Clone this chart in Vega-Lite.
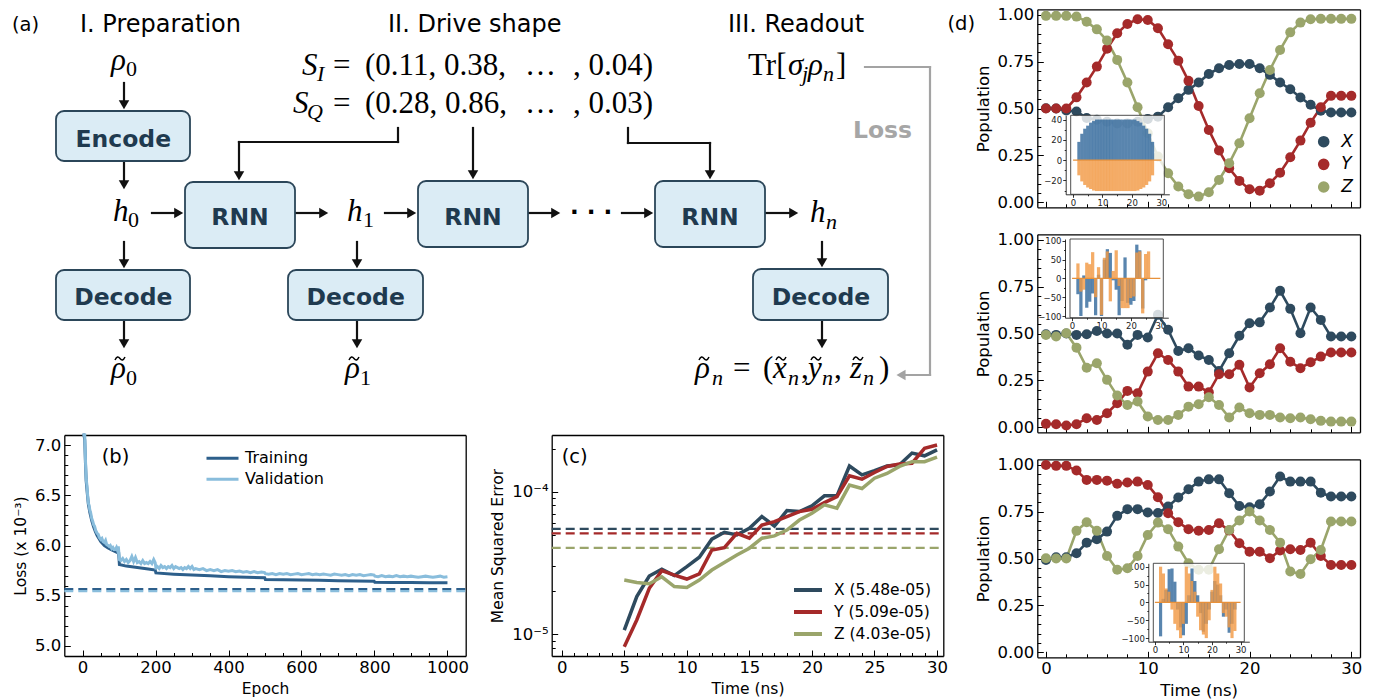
{
"$schema":"https://vega.github.io/schema/vega-lite/v6.json",
"width":1375,"height":700,"autosize":{"type":"none"},"padding":0,"background":"white",
"config":{"view":{"stroke":null},"font":"DejaVu Sans",
 "axis":{"grid":false,"domainColor":"#000","domainWidth":1.3,"tickColor":"#000","tickWidth":1,"labelFont":"DejaVu Sans","labelColor":"#000","titleFont":"DejaVu Sans","titleFontWeight":"normal","titleColor":"#000","labelFlush":false,"labelOverlap":false,"labelBound":false,"zindex":1},
 "legend":{"labelFont":"DejaVu Sans","labelColor":"#000"}},
"datasets":{
"boxes":[
 {"x":5.6,"x2":19.0,"y":11.1,"y2":16.1,"label":"Encode","cx":12.33,"cy":14.67},
 {"x":5.6,"x2":19.0,"y":27.0,"y2":32.0,"label":"Decode","cx":12.33,"cy":30.5},
 {"x":18.5,"x2":29.5,"y":18.2,"y2":24.8,"label":"RNN","cx":24.0,"cy":22.5},
 {"x":28.8,"x2":42.3,"y":27.0,"y2":32.0,"label":"Decode","cx":35.57,"cy":30.5},
 {"x":41.8,"x2":52.8,"y":18.1,"y2":24.7,"label":"RNN","cx":47.3,"cy":22.45},
 {"x":65.5,"x2":76.5,"y":18.1,"y2":24.7,"label":"RNN","cx":71.0,"cy":22.45},
 {"x":75.3,"x2":88.8,"y":26.9,"y2":32.0,"label":"Decode","cx":82.1,"cy":30.5}],
"segs":[
 {"x":12.4,"y":8.3,"x2":12.4,"y2":10.47,"k":"main"},
 {"x":12.4,"y":16.2,"x2":12.4,"y2":18.47,"k":"main"},
 {"x":12.4,"y":24.2,"x2":12.4,"y2":26.37,"k":"main"},
 {"x":12.4,"y":32.1,"x2":12.4,"y2":34.37,"k":"main"},
 {"x":35.7,"y":24.2,"x2":35.7,"y2":26.37,"k":"main"},
 {"x":35.7,"y":32.1,"x2":35.7,"y2":34.37,"k":"main"},
 {"x":82.2,"y":24.2,"x2":82.2,"y2":26.27,"k":"main"},
 {"x":82.2,"y":32.1,"x2":82.2,"y2":34.37,"k":"main"},
 {"x":23.9,"y":14.2,"x2":23.9,"y2":17.57,"k":"main"},
 {"x":47.3,"y":12.8,"x2":47.3,"y2":17.47,"k":"main"},
 {"x":71.0,"y":14.3,"x2":71.0,"y2":17.47,"k":"main"},
 {"x":15.2,"y":21.3,"x2":17.87,"y2":21.3,"k":"main"},
 {"x":29.5,"y":21.3,"x2":32.37,"y2":21.3,"k":"main"},
 {"x":38.5,"y":21.3,"x2":41.17,"y2":21.3,"k":"main"},
 {"x":52.8,"y":21.3,"x2":55.57,"y2":21.3,"k":"main"},
 {"x":62.2,"y":21.3,"x2":64.87,"y2":21.3,"k":"main"},
 {"x":76.5,"y":21.3,"x2":79.37,"y2":21.3,"k":"main"},
 {"x":39.8,"y":12.8,"x2":39.8,"y2":14.2,"k":"main"},
 {"x":39.8,"y":14.2,"x2":23.9,"y2":14.2,"k":"main"},
 {"x":62.8,"y":12.8,"x2":62.8,"y2":14.3,"k":"main"},
 {"x":62.8,"y":14.3,"x2":71.0,"y2":14.3,"k":"main"},
 {"x":86.5,"y":6.7,"x2":93.0,"y2":6.7,"k":"loss"},
 {"x":93.0,"y":6.7,"x2":93.0,"y2":37.5,"k":"loss"},
 {"x":93.0,"y":37.5,"x2":90.1,"y2":37.5,"k":"loss"}],
"heads":[
 {"x":12.4,"y":10.47,"d":"down","k":"main"},{"x":12.4,"y":18.47,"d":"down","k":"main"},
 {"x":12.4,"y":26.37,"d":"down","k":"main"},{"x":12.4,"y":34.37,"d":"down","k":"main"},
 {"x":35.7,"y":26.37,"d":"down","k":"main"},{"x":35.7,"y":34.37,"d":"down","k":"main"},
 {"x":82.2,"y":26.27,"d":"down","k":"main"},{"x":82.2,"y":34.37,"d":"down","k":"main"},
 {"x":23.9,"y":17.57,"d":"down","k":"main"},{"x":47.3,"y":17.47,"d":"down","k":"main"},
 {"x":71.0,"y":17.47,"d":"down","k":"main"},
 {"x":17.87,"y":21.3,"d":"right","k":"main"},{"x":32.37,"y":21.3,"d":"right","k":"main"},
 {"x":41.17,"y":21.3,"d":"right","k":"main"},{"x":55.57,"y":21.3,"d":"right","k":"main"},
 {"x":64.87,"y":21.3,"d":"right","k":"main"},{"x":79.37,"y":21.3,"d":"right","k":"main"},
 {"x":90.1,"y":37.5,"d":"left","k":"loss"}],
"tildes":[
 {"x":12.0,"y":35.85},{"x":35.4,"y":35.85},{"x":70.4,"y":35.85},{"x":78.1,"y":35.85},{"x":81.6,"y":35.85},{"x":85.8,"y":35.85}],
"math":[
 {"txt":"ρ","x":11.1,"y":7.0,"r":"it"},
 {"txt":"0","x":12.6,"y":7.6,"r":"rms"},
 {"txt":"h","x":11.3,"y":22.1,"r":"it"},
 {"txt":"0","x":12.8,"y":22.7,"r":"rms"},
 {"txt":"ρ","x":11.1,"y":37.8,"r":"it"},
 {"txt":"0","x":12.6,"y":38.5,"r":"rms"},
 {"txt":"h","x":34.7,"y":22.1,"r":"it"},
 {"txt":"1","x":36.3,"y":22.7,"r":"rms"},
 {"txt":"ρ","x":34.5,"y":37.8,"r":"it"},
 {"txt":"1","x":36.0,"y":38.5,"r":"rms"},
 {"txt":"h","x":81.0,"y":22.2,"r":"it"},
 {"txt":"n","x":82.6,"y":22.9,"r":"its"},
 {"txt":"S","x":30.2,"y":7.5,"r":"it"},
 {"txt":"I","x":31.7,"y":8.1,"r":"its"},
 {"txt":"=","x":33.3,"y":7.5,"r":"rm"},
 {"txt":"(0.11, 0.38,","x":36.5,"y":7.5,"r":"rm"},
 {"txt":"…","x":52.5,"y":7.5,"r":"rm"},
 {"txt":", 0.04)","x":57.3,"y":7.5,"r":"rm"},
 {"txt":"S","x":29.3,"y":11.3,"r":"it"},
 {"txt":"Q","x":30.7,"y":11.9,"r":"its"},
 {"txt":"=","x":33.3,"y":11.3,"r":"rm"},
 {"txt":"(0.28, 0.86,","x":36.5,"y":11.3,"r":"rm"},
 {"txt":"…","x":52.5,"y":11.3,"r":"rm"},
 {"txt":", 0.03)","x":57.3,"y":11.3,"r":"rm"},
 {"txt":"Tr[","x":74.8,"y":7.5,"r":"rm"},
 {"txt":"σ","x":78.8,"y":7.5,"r":"it"},
 {"txt":"j","x":80.2,"y":8.1,"r":"its"},
 {"txt":"ρ","x":80.8,"y":7.5,"r":"it"},
 {"txt":"n","x":82.3,"y":8.1,"r":"its"},
 {"txt":"]","x":83.6,"y":7.5,"r":"rm"},
 {"txt":"ρ","x":69.5,"y":37.8,"r":"it"},
 {"txt":"n","x":71.2,"y":38.5,"r":"its"},
 {"txt":"=","x":73.3,"y":37.8,"r":"rm"},
 {"txt":"(","x":76.3,"y":37.8,"r":"rm"},
 {"txt":"x","x":77.3,"y":37.8,"r":"it"},
 {"txt":"n","x":78.8,"y":38.5,"r":"its"},
 {"txt":",","x":80.1,"y":37.8,"r":"rm"},
 {"txt":"y","x":80.8,"y":37.8,"r":"it"},
 {"txt":"n","x":82.2,"y":38.5,"r":"its"},
 {"txt":",","x":83.4,"y":37.8,"r":"rm"},
 {"txt":"z","x":85.0,"y":37.8,"r":"it"},
 {"txt":"n","x":86.3,"y":38.5,"r":"its"},
 {"txt":")","x":87.9,"y":37.8,"r":"rm"}],
"labels":[
 {"txt":"(a)","x":1.2,"y":3.05,"g":"p"},
 {"txt":"I. Preparation","x":8.0,"y":3.15,"g":"h"},
 {"txt":"II. Drive shape","x":38.8,"y":3.15,"g":"h"},
 {"txt":"III. Readout","x":72.8,"y":3.15,"g":"h"},
 {"txt":"(b)","x":10.17,"y":46.3,"g":"p"},
 {"txt":"(c)","x":56.17,"y":46.3,"g":"p"},
 {"txt":"(d)","x":94.74,"y":3.0,"g":"p"},
 {"txt":"Loss","x":85.3,"y":13.8,"g":"l"},
 {"txt":"· · ·","x":59.1,"y":21.3,"g":"dots"}],
"loss":[
 {"e":0,"v":9.2,"s":"Training"},{"e":2,"v":8.1,"s":"Training"},{"e":4,"v":7.45,"s":"Training"},{"e":6,"v":7.05,"s":"Training"},{"e":8,"v":6.82,"s":"Training"},{"e":10,"v":6.64,"s":"Training"},{"e":13,"v":6.52,"s":"Training"},{"e":16,"v":6.41,"s":"Training"},{"e":20,"v":6.33,"s":"Training"},{"e":25,"v":6.25,"s":"Training"},{"e":30,"v":6.19,"s":"Training"},{"e":35,"v":6.14,"s":"Training"},{"e":40,"v":6.1,"s":"Training"},{"e":50,"v":6.04,"s":"Training"},{"e":60,"v":6.0,"s":"Training"},{"e":70,"v":5.975,"s":"Training"},{"e":80,"v":5.955,"s":"Training"},{"e":90,"v":5.94,"s":"Training"},{"e":99,"v":5.925,"s":"Training"},{"e":101,"v":5.81,"s":"Training"},{"e":120,"v":5.795,"s":"Training"},{"e":140,"v":5.785,"s":"Training"},{"e":160,"v":5.775,"s":"Training"},{"e":180,"v":5.765,"s":"Training"},{"e":199,"v":5.755,"s":"Training"},{"e":201,"v":5.727,"s":"Training"},{"e":250,"v":5.715,"s":"Training"},{"e":300,"v":5.706,"s":"Training"},{"e":350,"v":5.698,"s":"Training"},{"e":400,"v":5.69,"s":"Training"},{"e":450,"v":5.684,"s":"Training"},{"e":499,"v":5.679,"s":"Training"},{"e":501,"v":5.662,"s":"Training"},{"e":550,"v":5.659,"s":"Training"},{"e":600,"v":5.656,"s":"Training"},{"e":650,"v":5.653,"s":"Training"},{"e":700,"v":5.65,"s":"Training"},{"e":750,"v":5.647,"s":"Training"},{"e":799,"v":5.645,"s":"Training"},{"e":801,"v":5.633,"s":"Training"},{"e":850,"v":5.632,"s":"Training"},{"e":900,"v":5.631,"s":"Training"},{"e":950,"v":5.63,"s":"Training"},{"e":1000,"v":5.629,"s":"Training"},
 {"e":0,"v":9.6,"s":"Validation"},{"e":2,"v":8.3,"s":"Validation"},{"e":4,"v":7.5,"s":"Validation"},{"e":6,"v":7.1,"s":"Validation"},{"e":8,"v":6.85,"s":"Validation"},{"e":10,"v":6.66,"s":"Validation"},{"e":12,"v":6.6,"s":"Validation"},{"e":14,"v":6.5,"s":"Validation"},{"e":16,"v":6.42,"s":"Validation"},{"e":18,"v":6.4,"s":"Validation"},{"e":20,"v":6.35,"s":"Validation"},{"e":22,"v":6.33,"s":"Validation"},{"e":25,"v":6.27,"s":"Validation"},{"e":28,"v":6.24,"s":"Validation"},{"e":30,"v":6.21,"s":"Validation"},{"e":33,"v":6.19,"s":"Validation"},{"e":36,"v":6.15,"s":"Validation"},{"e":40,"v":6.12,"s":"Validation"},{"e":43,"v":6.11,"s":"Validation"},{"e":46,"v":6.08,"s":"Validation"},{"e":50,"v":6.06,"s":"Validation"},{"e":53,"v":6.07,"s":"Validation"},{"e":56,"v":6.04,"s":"Validation"},{"e":60,"v":6.03,"s":"Validation"},{"e":63,"v":6.05,"s":"Validation"},{"e":66,"v":6.01,"s":"Validation"},{"e":70,"v":6.0,"s":"Validation"},{"e":73,"v":5.99,"s":"Validation"},{"e":76,"v":6.0,"s":"Validation"},{"e":80,"v":5.97,"s":"Validation"},{"e":83,"v":5.98,"s":"Validation"},{"e":86,"v":5.96,"s":"Validation"},{"e":90,"v":5.96,"s":"Validation"},{"e":93,"v":5.98,"s":"Validation"},{"e":96,"v":5.95,"s":"Validation"},{"e":98,"v":5.99,"s":"Validation"},{"e":99,"v":5.95,"s":"Validation"},{"e":101,"v":5.86,"s":"Validation"},{"e":105,"v":5.85,"s":"Validation"},{"e":110,"v":5.87,"s":"Validation"},{"e":115,"v":5.84,"s":"Validation"},{"e":120,"v":5.86,"s":"Validation"},{"e":125,"v":5.83,"s":"Validation"},{"e":130,"v":5.85,"s":"Validation"},{"e":135,"v":5.89,"s":"Validation"},{"e":140,"v":5.84,"s":"Validation"},{"e":145,"v":5.88,"s":"Validation"},{"e":150,"v":5.83,"s":"Validation"},{"e":155,"v":5.84,"s":"Validation"},{"e":160,"v":5.82,"s":"Validation"},{"e":165,"v":5.85,"s":"Validation"},{"e":170,"v":5.82,"s":"Validation"},{"e":175,"v":5.83,"s":"Validation"},{"e":180,"v":5.82,"s":"Validation"},{"e":185,"v":5.84,"s":"Validation"},{"e":190,"v":5.82,"s":"Validation"},{"e":195,"v":5.86,"s":"Validation"},{"e":199,"v":5.83,"s":"Validation"},{"e":201,"v":5.78,"s":"Validation"},{"e":205,"v":5.79,"s":"Validation"},{"e":210,"v":5.77,"s":"Validation"},{"e":215,"v":5.8,"s":"Validation"},{"e":220,"v":5.78,"s":"Validation"},{"e":225,"v":5.79,"s":"Validation"},{"e":230,"v":5.77,"s":"Validation"},{"e":235,"v":5.79,"s":"Validation"},{"e":240,"v":5.78,"s":"Validation"},{"e":245,"v":5.8,"s":"Validation"},{"e":250,"v":5.77,"s":"Validation"},{"e":255,"v":5.79,"s":"Validation"},{"e":260,"v":5.78,"s":"Validation"},{"e":265,"v":5.77,"s":"Validation"},{"e":270,"v":5.78,"s":"Validation"},{"e":275,"v":5.76,"s":"Validation"},{"e":280,"v":5.78,"s":"Validation"},{"e":285,"v":5.77,"s":"Validation"},{"e":290,"v":5.79,"s":"Validation"},{"e":295,"v":5.77,"s":"Validation"},{"e":300,"v":5.79,"s":"Validation"},{"e":305,"v":5.76,"s":"Validation"},{"e":310,"v":5.77,"s":"Validation"},{"e":320,"v":5.76,"s":"Validation"},{"e":330,"v":5.77,"s":"Validation"},{"e":340,"v":5.75,"s":"Validation"},{"e":350,"v":5.76,"s":"Validation"},{"e":360,"v":5.75,"s":"Validation"},{"e":370,"v":5.76,"s":"Validation"},{"e":380,"v":5.74,"s":"Validation"},{"e":390,"v":5.75,"s":"Validation"},{"e":400,"v":5.745,"s":"Validation"},{"e":410,"v":5.75,"s":"Validation"},{"e":420,"v":5.74,"s":"Validation"},{"e":430,"v":5.745,"s":"Validation"},{"e":440,"v":5.735,"s":"Validation"},{"e":450,"v":5.74,"s":"Validation"},{"e":460,"v":5.73,"s":"Validation"},{"e":470,"v":5.74,"s":"Validation"},{"e":480,"v":5.73,"s":"Validation"},{"e":490,"v":5.735,"s":"Validation"},{"e":499,"v":5.73,"s":"Validation"},{"e":501,"v":5.72,"s":"Validation"},{"e":510,"v":5.715,"s":"Validation"},{"e":520,"v":5.72,"s":"Validation"},{"e":530,"v":5.71,"s":"Validation"},{"e":540,"v":5.72,"s":"Validation"},{"e":550,"v":5.715,"s":"Validation"},{"e":560,"v":5.72,"s":"Validation"},{"e":570,"v":5.71,"s":"Validation"},{"e":580,"v":5.715,"s":"Validation"},{"e":590,"v":5.72,"s":"Validation"},{"e":600,"v":5.71,"s":"Validation"},{"e":610,"v":5.715,"s":"Validation"},{"e":620,"v":5.72,"s":"Validation"},{"e":630,"v":5.71,"s":"Validation"},{"e":640,"v":5.715,"s":"Validation"},{"e":650,"v":5.71,"s":"Validation"},{"e":660,"v":5.715,"s":"Validation"},{"e":670,"v":5.71,"s":"Validation"},{"e":680,"v":5.705,"s":"Validation"},{"e":690,"v":5.715,"s":"Validation"},{"e":700,"v":5.71,"s":"Validation"},{"e":710,"v":5.705,"s":"Validation"},{"e":720,"v":5.71,"s":"Validation"},{"e":730,"v":5.7,"s":"Validation"},{"e":740,"v":5.71,"s":"Validation"},{"e":750,"v":5.705,"s":"Validation"},{"e":760,"v":5.71,"s":"Validation"},{"e":770,"v":5.7,"s":"Validation"},{"e":780,"v":5.705,"s":"Validation"},{"e":790,"v":5.71,"s":"Validation"},{"e":799,"v":5.705,"s":"Validation"},{"e":801,"v":5.695,"s":"Validation"},{"e":810,"v":5.69,"s":"Validation"},{"e":820,"v":5.7,"s":"Validation"},{"e":830,"v":5.69,"s":"Validation"},{"e":840,"v":5.695,"s":"Validation"},{"e":850,"v":5.69,"s":"Validation"},{"e":860,"v":5.7,"s":"Validation"},{"e":870,"v":5.69,"s":"Validation"},{"e":880,"v":5.695,"s":"Validation"},{"e":890,"v":5.69,"s":"Validation"},{"e":900,"v":5.695,"s":"Validation"},{"e":910,"v":5.69,"s":"Validation"},{"e":920,"v":5.685,"s":"Validation"},{"e":930,"v":5.69,"s":"Validation"},{"e":940,"v":5.695,"s":"Validation"},{"e":950,"v":5.69,"s":"Validation"},{"e":960,"v":5.685,"s":"Validation"},{"e":970,"v":5.69,"s":"Validation"},{"e":980,"v":5.695,"s":"Validation"},{"e":990,"v":5.685,"s":"Validation"},{"e":1000,"v":5.69,"s":"Validation"}],
"lossref":[{"e":-50,"e2":1050,"v":5.565,"s":"Training"},{"e":-50,"e2":1050,"v":5.545,"s":"Validation"}],
"mse":[
 {"t":5,"X":1.07e-5,"Y":8.2e-6,"Z":2.40e-5},{"t":6,"X":1.84e-5,"Y":1.26e-5,"Z":2.31e-5},{"t":7,"X":2.56e-5,"Y":2.1e-5,"Z":2.26e-5},{"t":8,"X":2.86e-5,"Y":2.79e-5,"Z":2.53e-5},{"t":9,"X":2.58e-5,"Y":2.6e-5,"Z":2.16e-5},{"t":10,"X":2.98e-5,"Y":2.44e-5,"Z":2.13e-5},{"t":11,"X":3.47e-5,"Y":2.65e-5,"Z":2.40e-5},{"t":12,"X":4.64e-5,"Y":3.9e-5,"Z":2.82e-5},{"t":13,"X":5.19e-5,"Y":4.05e-5,"Z":3.18e-5},{"t":14,"X":4.97e-5,"Y":5.1e-5,"Z":3.59e-5},{"t":15,"X":5.53e-5,"Y":4.71e-5,"Z":4.01e-5},{"t":16,"X":6.68e-5,"Y":5.83e-5,"Z":4.71e-5},{"t":17,"X":5.74e-5,"Y":6.16e-5,"Z":4.89e-5},{"t":18,"X":7.36e-5,"Y":6.68e-5,"Z":5.38e-5},{"t":19,"X":7.24e-5,"Y":7.24e-5,"Z":6.32e-5},{"t":20,"X":7.94e-5,"Y":7.52e-5,"Z":7.05e-5},{"t":21,"X":9.33e-5,"Y":8.37e-5,"Z":8.07e-5},{"t":22,"X":9.33e-5,"Y":9.23e-5,"Z":7.65e-5},{"t":23,"X":1.51e-4,"Y":1.29e-4,"Z":1.11e-4},{"t":24,"X":1.31e-4,"Y":1.22e-4,"Z":1.05e-4},{"t":25,"X":1.40e-4,"Y":1.36e-4,"Z":1.24e-4},{"t":26,"X":1.51e-4,"Y":1.50e-4,"Z":1.34e-4},{"t":27,"X":1.54e-4,"Y":1.56e-4,"Z":1.50e-4},{"t":28,"X":1.86e-4,"Y":1.58e-4,"Z":1.62e-4},{"t":29,"X":1.78e-4,"Y":2.01e-4,"Z":1.62e-4},{"t":30,"X":1.96e-4,"Y":2.12e-4,"Z":1.74e-4}],
"mseref":[{"t":-0.8,"t2":30.5,"v":5.48e-5,"s":"X"},{"t":-0.8,"t2":30.5,"v":5.09e-5,"s":"Y"},{"t":-0.8,"t2":30.5,"v":4.03e-5,"s":"Z"}],
"pop":[
 {"p":1,"t":0,"X":0.502,"Y":0.5,"Z":0.995},{"p":1,"t":1,"X":0.5,"Y":0.5,"Z":0.995},{"p":1,"t":2,"X":0.49,"Y":0.5,"Z":0.995},{"p":1,"t":3,"X":0.484,"Y":0.56,"Z":0.991},{"p":1,"t":4,"X":0.45,"Y":0.639,"Z":0.964},{"p":1,"t":5,"X":0.44,"Y":0.724,"Z":0.923},{"p":1,"t":6,"X":0.43,"Y":0.819,"Z":0.863},{"p":1,"t":7,"X":0.42,"Y":0.902,"Z":0.76},{"p":1,"t":8,"X":0.42,"Y":0.952,"Z":0.639},{"p":1,"t":9,"X":0.43,"Y":0.977,"Z":0.507},{"p":1,"t":10,"X":0.445,"Y":0.973,"Z":0.368},{"p":1,"t":11,"X":0.457,"Y":0.929,"Z":0.244},{"p":1,"t":12,"X":0.507,"Y":0.843,"Z":0.155},{"p":1,"t":13,"X":0.555,"Y":0.756,"Z":0.084},{"p":1,"t":14,"X":0.6,"Y":0.648,"Z":0.043},{"p":1,"t":15,"X":0.639,"Y":0.514,"Z":0.03},{"p":1,"t":16,"X":0.685,"Y":0.386,"Z":0.053},{"p":1,"t":17,"X":0.715,"Y":0.276,"Z":0.119},{"p":1,"t":18,"X":0.733,"Y":0.181,"Z":0.208},{"p":1,"t":19,"X":0.738,"Y":0.114,"Z":0.315},{"p":1,"t":20,"X":0.738,"Y":0.069,"Z":0.448},{"p":1,"t":21,"X":0.715,"Y":0.062,"Z":0.582},{"p":1,"t":22,"X":0.68,"Y":0.101,"Z":0.706},{"p":1,"t":23,"X":0.639,"Y":0.158,"Z":0.813},{"p":1,"t":24,"X":0.603,"Y":0.24,"Z":0.907},{"p":1,"t":25,"X":0.559,"Y":0.329,"Z":0.959},{"p":1,"t":26,"X":0.52,"Y":0.425,"Z":0.977},{"p":1,"t":27,"X":0.489,"Y":0.507,"Z":0.979},{"p":1,"t":28,"X":0.479,"Y":0.568,"Z":0.979},{"p":1,"t":29,"X":0.479,"Y":0.568,"Z":0.979},{"p":1,"t":30,"X":0.479,"Y":0.568,"Z":0.979},
 {"p":2,"t":0,"X":0.496,"Y":0.018,"Z":0.493},{"p":2,"t":1,"X":0.493,"Y":0.016,"Z":0.484},{"p":2,"t":2,"X":0.5,"Y":0.009,"Z":0.502},{"p":2,"t":3,"X":0.493,"Y":0.016,"Z":0.425},{"p":2,"t":4,"X":0.496,"Y":0.048,"Z":0.318},{"p":2,"t":5,"X":0.514,"Y":0.039,"Z":0.342},{"p":2,"t":6,"X":0.5,"Y":0.075,"Z":0.253},{"p":2,"t":7,"X":0.5,"Y":0.128,"Z":0.169},{"p":2,"t":8,"X":0.44,"Y":0.194,"Z":0.119},{"p":2,"t":9,"X":0.493,"Y":0.181,"Z":0.137},{"p":2,"t":10,"X":0.479,"Y":0.297,"Z":0.057},{"p":2,"t":11,"X":0.6,"Y":0.395,"Z":0.039},{"p":2,"t":12,"X":0.52,"Y":0.359,"Z":0.039},{"p":2,"t":13,"X":0.407,"Y":0.297,"Z":0.066},{"p":2,"t":14,"X":0.422,"Y":0.217,"Z":0.11},{"p":2,"t":15,"X":0.383,"Y":0.217,"Z":0.123},{"p":2,"t":16,"X":0.359,"Y":0.187,"Z":0.16},{"p":2,"t":17,"X":0.3,"Y":0.283,"Z":0.119},{"p":2,"t":18,"X":0.395,"Y":0.283,"Z":0.052},{"p":2,"t":19,"X":0.488,"Y":0.333,"Z":0.105},{"p":2,"t":20,"X":0.555,"Y":0.212,"Z":0.075},{"p":2,"t":21,"X":0.56,"Y":0.288,"Z":0.066},{"p":2,"t":22,"X":0.639,"Y":0.336,"Z":0.066},{"p":2,"t":23,"X":0.728,"Y":0.422,"Z":0.052},{"p":2,"t":24,"X":0.632,"Y":0.35,"Z":0.048},{"p":2,"t":25,"X":0.502,"Y":0.315,"Z":0.052},{"p":2,"t":26,"X":0.639,"Y":0.347,"Z":0.043},{"p":2,"t":27,"X":0.573,"Y":0.377,"Z":0.034},{"p":2,"t":28,"X":0.484,"Y":0.399,"Z":0.03},{"p":2,"t":29,"X":0.484,"Y":0.399,"Z":0.03},{"p":2,"t":30,"X":0.484,"Y":0.399,"Z":0.03},
 {"p":3,"t":0,"X":0.493,"Y":1.0,"Z":0.502},{"p":3,"t":1,"X":0.507,"Y":0.995,"Z":0.5},{"p":3,"t":2,"X":0.507,"Y":0.995,"Z":0.5},{"p":3,"t":3,"X":0.528,"Y":0.97,"Z":0.648},{"p":3,"t":4,"X":0.585,"Y":0.92,"Z":0.694},{"p":3,"t":5,"X":0.603,"Y":0.92,"Z":0.648},{"p":3,"t":6,"X":0.644,"Y":0.916,"Z":0.514},{"p":3,"t":7,"X":0.728,"Y":0.899,"Z":0.44},{"p":3,"t":8,"X":0.764,"Y":0.906,"Z":0.448},{"p":3,"t":9,"X":0.764,"Y":0.911,"Z":0.514},{"p":3,"t":10,"X":0.746,"Y":0.893,"Z":0.626},{"p":3,"t":11,"X":0.743,"Y":0.827,"Z":0.692},{"p":3,"t":12,"X":0.778,"Y":0.742,"Z":0.657},{"p":3,"t":13,"X":0.826,"Y":0.694,"Z":0.564},{"p":3,"t":14,"X":0.87,"Y":0.657,"Z":0.475},{"p":3,"t":15,"X":0.911,"Y":0.649,"Z":0.44},{"p":3,"t":16,"X":0.923,"Y":0.653,"Z":0.44},{"p":3,"t":17,"X":0.923,"Y":0.689,"Z":0.55},{"p":3,"t":18,"X":0.849,"Y":0.65,"Z":0.653},{"p":3,"t":19,"X":0.781,"Y":0.582,"Z":0.703},{"p":3,"t":20,"X":0.774,"Y":0.537,"Z":0.751},{"p":3,"t":21,"X":0.79,"Y":0.537,"Z":0.703},{"p":3,"t":22,"X":0.858,"Y":0.502,"Z":0.653},{"p":3,"t":23,"X":0.938,"Y":0.543,"Z":0.585},{"p":3,"t":24,"X":0.911,"Y":0.55,"Z":0.431},{"p":3,"t":25,"X":0.911,"Y":0.546,"Z":0.418},{"p":3,"t":26,"X":0.911,"Y":0.585,"Z":0.496},{"p":3,"t":27,"X":0.852,"Y":0.514,"Z":0.546},{"p":3,"t":28,"X":0.831,"Y":0.466,"Z":0.698},{"p":3,"t":29,"X":0.831,"Y":0.466,"Z":0.698},{"p":3,"t":30,"X":0.831,"Y":0.466,"Z":0.698}],
"pulse":[
 {"p":1,"t":2,"I":18,"Q":-15},{"p":1,"t":3,"I":26,"Q":-21},{"p":1,"t":4,"I":31,"Q":-24.5},{"p":1,"t":5,"I":34,"Q":-27},{"p":1,"t":6,"I":37,"Q":-28.5},{"p":1,"t":7,"I":38.5,"Q":-30},{"p":1,"t":8,"I":40,"Q":-30.5},{"p":1,"t":9,"I":40,"Q":-30.5},{"p":1,"t":10,"I":40,"Q":-30.5},{"p":1,"t":11,"I":40,"Q":-30.5},{"p":1,"t":12,"I":40,"Q":-30.5},{"p":1,"t":13,"I":40,"Q":-30.5},{"p":1,"t":14,"I":40,"Q":-30.5},{"p":1,"t":15,"I":40,"Q":-30.5},{"p":1,"t":16,"I":40,"Q":-30.5},{"p":1,"t":17,"I":40,"Q":-30.5},{"p":1,"t":18,"I":40,"Q":-30.5},{"p":1,"t":19,"I":40,"Q":-30.5},{"p":1,"t":20,"I":40,"Q":-30.5},{"p":1,"t":21,"I":40,"Q":-30.5},{"p":1,"t":22,"I":38.5,"Q":-30},{"p":1,"t":23,"I":37,"Q":-28.5},{"p":1,"t":24,"I":34,"Q":-27},{"p":1,"t":25,"I":31,"Q":-24.5},{"p":1,"t":26,"I":26,"Q":-21},{"p":1,"t":27,"I":18,"Q":-15},
 {"p":2,"t":2,"I":-42,"Q":40},{"p":2,"t":3,"I":-100,"Q":-35},{"p":2,"t":4,"I":8,"Q":-30},{"p":2,"t":5,"I":-78,"Q":42},{"p":2,"t":6,"I":-62,"Q":38},{"p":2,"t":7,"I":-40,"Q":70},{"p":2,"t":8,"I":-98,"Q":-50},{"p":2,"t":9,"I":10,"Q":30},{"p":2,"t":10,"I":-100,"Q":-97},{"p":2,"t":11,"I":50,"Q":55},{"p":2,"t":12,"I":78,"Q":72},{"p":2,"t":13,"I":68,"Q":-61},{"p":2,"t":14,"I":-5,"Q":20},{"p":2,"t":15,"I":-30,"Q":75},{"p":2,"t":16,"I":-98,"Q":-20},{"p":2,"t":17,"I":-60,"Q":-79},{"p":2,"t":18,"I":56,"Q":-79},{"p":2,"t":19,"I":-65,"Q":-79},{"p":2,"t":20,"I":-70,"Q":-52},{"p":2,"t":21,"I":-60,"Q":-48},{"p":2,"t":22,"I":90,"Q":69},{"p":2,"t":23,"I":75,"Q":72},{"p":2,"t":24,"I":-80,"Q":-93},{"p":2,"t":25,"I":-5,"Q":65},{"p":2,"t":26,"I":0,"Q":72},
 {"p":3,"t":2,"I":-95,"Q":100},{"p":3,"t":3,"I":10,"Q":81},{"p":3,"t":4,"I":35,"Q":39},{"p":3,"t":5,"I":93,"Q":30},{"p":3,"t":6,"I":95,"Q":-20},{"p":3,"t":7,"I":58,"Q":-60},{"p":3,"t":8,"I":-20,"Q":-78},{"p":3,"t":9,"I":-70,"Q":-100},{"p":3,"t":10,"I":-92,"Q":-60},{"p":3,"t":11,"I":-60,"Q":100},{"p":3,"t":12,"I":20,"Q":81},{"p":3,"t":13,"I":95,"Q":60},{"p":3,"t":14,"I":60,"Q":30},{"p":3,"t":15,"I":20,"Q":-40},{"p":3,"t":16,"I":-30,"Q":-78},{"p":3,"t":17,"I":-82,"Q":-90},{"p":3,"t":18,"I":-60,"Q":-100},{"p":3,"t":19,"I":-20,"Q":-50},{"p":3,"t":20,"I":30,"Q":35},{"p":3,"t":21,"I":60,"Q":100},{"p":3,"t":22,"I":50,"Q":81},{"p":3,"t":23,"I":20,"Q":53},{"p":3,"t":24,"I":-40,"Q":-30},{"p":3,"t":25,"I":-20,"Q":-40},{"p":3,"t":26,"I":-85,"Q":-70},{"p":3,"t":27,"I":-60,"Q":-100},{"p":3,"t":28,"I":-20,"Q":-80}],
"inframe":[{"p":1,"t":-0.8,"t2":31.0,"v":-33.7,"v2":44.2},{"p":2,"t":-0.7,"t2":31.0,"v":-104.5,"v2":105},{"p":3,"t":-0.55,"t2":31.3,"v":-110,"v2":109.5}],
"inzero":[{"p":1,"t":0,"t2":30,"v":0},{"p":2,"t":0,"t2":30,"v":0},{"p":3,"t":0,"t2":30,"v":0}]
},
"layer":[
{
 "encoding":{
  "x":{"field":"x","type":"quantitative","scale":{"domain":[0,137.5],"range":[0,1375],"nice":false,"zero":false},"axis":null},
  "y":{"field":"y","type":"quantitative","scale":{"domain":[0,70],"range":[0,700],"nice":false,"zero":false},"axis":null}},
 "layer":[
  {"data":{"name":"segs"},"mark":{"type":"rule","strokeWidth":2.2,"strokeCap":"square"},"encoding":{"x2":{"field":"x2"},"y2":{"field":"y2"},"color":{"field":"k","type":"nominal","scale":{"domain":["main","loss"],"range":["#111111","#a3a3a3"]},"legend":null}}},
  {"data":{"name":"boxes"},"mark":{"type":"rect","fill":"#dbecf5","stroke":"#2b4659","strokeWidth":1.8,"cornerRadius":8},"encoding":{"x2":{"field":"x2"},"y2":{"field":"y2"}}},
  {"data":{"name":"boxes"},"mark":{"type":"text","font":"DejaVu Sans","fontWeight":"bold","fontSize":23.5,"color":"#1f3a4f","align":"center","baseline":"alphabetic"},"encoding":{"x":{"field":"cx","type":"quantitative","scale":{"domain":[0,137.5],"range":[0,1375],"nice":false,"zero":false},"axis":null},"y":{"field":"cy","type":"quantitative","scale":{"domain":[0,70],"range":[0,700],"nice":false,"zero":false},"axis":null},"text":{"field":"label"}}},
  {"data":{"name":"heads"},"mark":{"type":"point","filled":true,"size":110,"opacity":1},"encoding":{"shape":{"field":"d","type":"nominal","scale":{"domain":["down","right","left"],"range":["triangle-down","triangle-right","triangle-left"]},"legend":null},"color":{"field":"k","type":"nominal","scale":{"domain":["main","loss"],"range":["#111111","#a3a3a3"]},"legend":null}}},
  {"data":{"name":"tildes"},"mark":{"type":"point","shape":"M-1,0.3C-0.65,-0.45 -0.35,-0.45 0,0C0.35,0.45 0.65,0.45 1,-0.3","filled":false,"size":100,"strokeWidth":1.5,"color":"#000","opacity":1}},
  {"data":{"name":"math"},"transform":[{"filter":"datum.r === 'it'"}],"mark":{"type":"text","font":"Liberation Serif","fontStyle":"italic","fontSize":31,"align":"left","baseline":"alphabetic","color":"#000"},"encoding":{"text":{"field":"txt"}}},
  {"data":{"name":"math"},"transform":[{"filter":"datum.r === 'its'"}],"mark":{"type":"text","font":"Liberation Serif","fontStyle":"italic","fontSize":22,"align":"left","baseline":"alphabetic","color":"#000"},"encoding":{"text":{"field":"txt"}}},
  {"data":{"name":"math"},"transform":[{"filter":"datum.r === 'rm'"}],"mark":{"type":"text","font":"Liberation Serif","fontSize":31,"align":"left","baseline":"alphabetic","color":"#000"},"encoding":{"text":{"field":"txt"}}},
  {"data":{"name":"math"},"transform":[{"filter":"datum.r === 'rms'"}],"mark":{"type":"text","font":"Liberation Serif","fontSize":22,"align":"left","baseline":"alphabetic","color":"#000"},"encoding":{"text":{"field":"txt"}}},
  {"data":{"name":"labels"},"transform":[{"filter":"datum.g === 'h'"}],"mark":{"type":"text","font":"DejaVu Sans","fontSize":24,"align":"left","baseline":"alphabetic","color":"#000"},"encoding":{"text":{"field":"txt"}}},
  {"data":{"name":"labels"},"transform":[{"filter":"datum.g === 'p'"}],"mark":{"type":"text","font":"DejaVu Sans","fontSize":19.5,"align":"left","baseline":"alphabetic","color":"#000"},"encoding":{"text":{"field":"txt"}}},
  {"data":{"name":"labels"},"transform":[{"filter":"datum.g === 'l'"}],"mark":{"type":"text","font":"DejaVu Sans","fontWeight":"bold","fontSize":23.5,"align":"left","baseline":"alphabetic","color":"#a6a6a6"},"encoding":{"text":{"field":"txt"}}},
  {"data":{"name":"labels"},"transform":[{"filter":"datum.g === 'dots'"}],"mark":{"type":"text","font":"DejaVu Sans","fontWeight":"bold","fontSize":23,"align":"center","baseline":"middle","color":"#000"},"encoding":{"text":{"field":"txt"}}}
 ]
},
{
 "encoding":{
  "x":{"field":"e","type":"quantitative","scale":{"domain":[-50,1050],"range":[64.3,465.7],"nice":false,"zero":false},
   "axis":{"orient":"bottom","offset":-44,"values":[0,50,100,150,200,250,300,350,400,450,500,550,600,650,700,750,800,850,900,950,1000],"format":"d","tickSize":{"condition":{"test":"datum.value % 200 === 0","value":-6},"value":-3.5},"labelExpr":"datum.value % 200 === 0 ? datum.label : ''","labelPadding":9.5,"labelFontSize":16.5,"title":"Epoch","titleFontSize":15.5,"titlePadding":3}},
  "y":{"field":"v","type":"quantitative","scale":{"domain":[4.9,7.1],"range":[656,435],"nice":false,"zero":false,"clamp":true},
   "axis":{"orient":"left","offset":-64.3,"values":[5,5.1,5.2,5.3,5.4,5.5,5.6,5.7,5.8,5.9,6,6.1,6.2,6.3,6.4,6.5,6.6,6.7,6.8,6.9,7],"format":".1f","tickSize":{"condition":{"test":"abs(datum.value*2 - round(datum.value*2)) < 0.001","value":-6},"value":-3.5},"labelExpr":"abs(datum.value*2 - round(datum.value*2)) < 0.001 ? datum.label : ''","labelPadding":9.5,"labelFontSize":16.5,"title":"Loss (x 10⁻³)","titleFontSize":15.5,"titlePadding":6}}},
 "layer":[
  {"data":{"name":"lossref"},"mark":{"type":"rule","strokeDash":[9,5],"strokeWidth":2.2},"encoding":{"x2":{"field":"e2"},"color":{"field":"s","type":"nominal","scale":{"domain":["Training","Validation"],"range":["#2d5f8b","#89bddc"]}}}},
  {"data":{"name":"loss"},"mark":{"type":"line","strokeWidth":3},"encoding":{"color":{"field":"s","type":"nominal","scale":{"domain":["Training","Validation"],"range":["#2d5f8b","#89bddc"]},
   "legend":{"orient":"none","legendX":205,"legendY":450.3,"title":null,"symbolType":"stroke","symbolSize":1024,"symbolStrokeWidth":3,"labelFontSize":16,"labelOffset":5,"clipHeight":16,"rowPadding":5,"padding":0}}}}
 ]
},
{"data":{"values":[{"e":0}]},"mark":{"type":"point","opacity":0},"encoding":{"x":{"field":"e","type":"quantitative","scale":{"domain":[-50,1050],"range":[64.3,465.7],"nice":false,"zero":false},"axis":{"orient":"top","offset":-435,"ticks":false,"labels":false,"title":null}}}},
{"data":{"values":[{"v":6}]},"mark":{"type":"point","opacity":0},"encoding":{"y":{"field":"v","type":"quantitative","scale":{"domain":[4.9,7.1],"range":[656,435],"nice":false,"zero":false},"axis":{"orient":"right","offset":-909.3,"ticks":false,"labels":false,"title":null}}}},
{
 "encoding":{
  "x":{"field":"t","type":"quantitative","scale":{"domain":[-0.8,30.5],"range":[551.7,943.3],"nice":false,"zero":false},
   "axis":{"orient":"bottom","offset":-44,"values":[0,1,2,3,4,5,6,7,8,9,10,11,12,13,14,15,16,17,18,19,20,21,22,23,24,25,26,27,28,29,30],"format":"d","tickSize":{"condition":{"test":"datum.value % 5 === 0","value":-6},"value":-3.5},"labelExpr":"datum.value % 5 === 0 ? datum.label : ''","labelPadding":9.5,"labelFontSize":16.5,"title":"Time (ns)","titleFontSize":15.5,"titlePadding":3}},
  "y":{"field":"v","type":"quantitative","scale":{"type":"log","domain":[7.05e-6,2.49e-4],"range":[656,435],"nice":false,"zero":false},
   "axis":{"orient":"left","offset":-551.7,"values":[8e-6,9e-6,1e-5,2e-5,3e-5,4e-5,5e-5,6e-5,7e-5,8e-5,9e-5,1e-4,2e-4],"tickSize":{"condition":{"test":"abs(log(datum.value)/LN10 - round(log(datum.value)/LN10)) < 0.001","value":-6},"value":-3.5},"labelExpr":"abs(log(datum.value)/LN10 + 4) < 0.001 ? '10⁻⁴' : (abs(log(datum.value)/LN10 + 5) < 0.001 ? '10⁻⁵' : '')","labelPadding":9.5,"labelFontSize":16.5,"title":"Mean Squared Error","titleFontSize":15.5,"titlePadding":6}}},
 "layer":[
  {"data":{"name":"mseref"},"mark":{"type":"rule","strokeDash":[9,5],"strokeWidth":2.2},"encoding":{"x2":{"field":"t2"},"color":{"field":"s","type":"nominal","scale":{"domain":["X","Y","Z"],"range":["#2e4a5e","#a52a2a","#9aa56b"]}}}},
  {"data":{"name":"mse"},"transform":[{"fold":["X","Y","Z"],"as":["s","v"]}],"mark":{"type":"line","strokeWidth":3.5},"encoding":{"color":{"field":"s","type":"nominal","scale":{"domain":["X","Y","Z"],"range":["#2e4a5e","#a52a2a","#9aa56b"]},
   "legend":{"orient":"none","legendX":792,"legendY":582,"title":null,"symbolType":"stroke","symbolSize":784,"symbolStrokeWidth":4,"labelFontSize":15.5,"labelOffset":10,"clipHeight":16,"rowPadding":5,"padding":0,"labelExpr":"datum.label == 'X' ? 'X (5.48e-05)' : (datum.label == 'Y' ? 'Y (5.09e-05)' : 'Z (4.03e-05)')"}}}}
 ]
},
{"data":{"values":[{"t":0}]},"mark":{"type":"point","opacity":0},"encoding":{"x":{"field":"t","type":"quantitative","scale":{"domain":[-0.8,30.5],"range":[551.7,943.3],"nice":false,"zero":false},"axis":{"orient":"top","offset":-435,"ticks":false,"labels":false,"title":null}}}},
{"data":{"values":[{"v":0.0001}]},"mark":{"type":"point","opacity":0},"encoding":{"y":{"field":"v","type":"quantitative","scale":{"type":"log","domain":[7.05e-6,2.49e-4],"range":[656,435],"nice":false,"zero":false},"axis":{"orient":"right","offset":-431.7,"ticks":false,"labels":false,"title":null}}}},
{
 "data":{"name":"pop"},"transform":[{"filter":"datum.p === 1"},{"fold":["X","Y","Z"],"as":["s","v"]}],
 "encoding":{
  "x":{"field":"t","type":"quantitative","scale":{"domain":[-0.85,30.85],"range":[1037.3,1360],"nice":false,"zero":false},
   "axis":{"orient":"bottom","offset":-492.7,"values":[0,2,4,6,8,10,12,14,16,18,20,22,24,26,28,30],"tickSize":{"condition":{"test":"datum.value % 10 === 0","value":-6},"value":-3.5},"labels":false,"title":null}},
  "y":{"field":"v","type":"quantitative","scale":{"domain":[-0.027,1.03],"range":[207.3,9.3],"nice":false,"zero":false},
   "axis":{"orient":"left","offset":-1037.3,"values":[0,0.05,0.1,0.15,0.2,0.25,0.3,0.35,0.4,0.45,0.5,0.55,0.6,0.65,0.7,0.75,0.8,0.85,0.9,0.95,1],"format":".2f","tickSize":{"condition":{"test":"abs(datum.value*4 - round(datum.value*4)) < 0.001","value":-6},"value":-3.5},"labelExpr":"abs(datum.value*4 - round(datum.value*4)) < 0.001 ? datum.label : ''","labelPadding":9.5,"labelFontSize":16.5,"title":"Population","titleFontSize":16.5,"titlePadding":6}}},
 "layer":[
  {"mark":{"type":"line","strokeWidth":2.6},"encoding":{"color":{"field":"s","type":"nominal","scale":{"domain":["X","Y","Z"],"range":["#2e4a5e","#a52a2a","#9aa56b"]}}}},
  {"mark":{"type":"point","filled":true,"size":100,"opacity":1},"encoding":{"color":{"field":"s","type":"nominal","scale":{"domain":["X","Y","Z"],"range":["#2e4a5e","#a52a2a","#9aa56b"]},
   "legend":{"orient":"none","legendX":1315.2,"legendY":133.7,"title":null,"symbolType":"circle","symbolSize":135,"symbolStrokeWidth":0,"labelFontSize":17,"labelFontStyle":"italic","labelOffset":9,"clipHeight":16,"rowPadding":5.65,"padding":0}}}}
 ]
},
{"data":{"values":[{"t":0}]},"mark":{"type":"point","opacity":0},"encoding":{"x":{"field":"t","type":"quantitative","scale":{"domain":[-0.85,30.85],"range":[1037.3,1360],"nice":false,"zero":false},"axis":{"orient":"top","offset":-9.3,"ticks":false,"labels":false,"title":null}}}},
{"data":{"values":[{"v":0.5}]},"mark":{"type":"point","opacity":0},"encoding":{"y":{"field":"v","type":"quantitative","scale":{"domain":[-0.027,1.03],"range":[207.3,9.3],"nice":false,"zero":false},"axis":{"orient":"right","offset":-15,"ticks":false,"labels":false,"title":null}}}},
{
 "data":{"name":"pop"},"transform":[{"filter":"datum.p === 2"},{"fold":["X","Y","Z"],"as":["s","v"]}],
 "encoding":{
  "x":{"field":"t","type":"quantitative","scale":{"domain":[-0.85,30.85],"range":[1037.3,1360],"nice":false,"zero":false},
   "axis":{"orient":"bottom","offset":-267.7,"values":[0,2,4,6,8,10,12,14,16,18,20,22,24,26,28,30],"tickSize":{"condition":{"test":"datum.value % 10 === 0","value":-6},"value":-3.5},"labels":false,"title":null}},
  "y":{"field":"v","type":"quantitative","scale":{"domain":[-0.027,1.03],"range":[432.3,234.3],"nice":false,"zero":false},
   "axis":{"orient":"left","offset":-1037.3,"values":[0,0.05,0.1,0.15,0.2,0.25,0.3,0.35,0.4,0.45,0.5,0.55,0.6,0.65,0.7,0.75,0.8,0.85,0.9,0.95,1],"format":".2f","tickSize":{"condition":{"test":"abs(datum.value*4 - round(datum.value*4)) < 0.001","value":-6},"value":-3.5},"labelExpr":"abs(datum.value*4 - round(datum.value*4)) < 0.001 ? datum.label : ''","labelPadding":9.5,"labelFontSize":16.5,"title":"Population","titleFontSize":16.5,"titlePadding":6}}},
 "layer":[
  {"mark":{"type":"line","strokeWidth":2.6},"encoding":{"color":{"field":"s","type":"nominal","scale":{"domain":["X","Y","Z"],"range":["#2e4a5e","#a52a2a","#9aa56b"]},"legend":null}}},
  {"mark":{"type":"point","filled":true,"size":100,"opacity":1},"encoding":{"color":{"field":"s","type":"nominal","scale":{"domain":["X","Y","Z"],"range":["#2e4a5e","#a52a2a","#9aa56b"]},"legend":null}}}
 ]
},
{"data":{"values":[{"t":0}]},"mark":{"type":"point","opacity":0},"encoding":{"x":{"field":"t","type":"quantitative","scale":{"domain":[-0.85,30.85],"range":[1037.3,1360],"nice":false,"zero":false},"axis":{"orient":"top","offset":-234.3,"ticks":false,"labels":false,"title":null}}}},
{"data":{"values":[{"v":0.5}]},"mark":{"type":"point","opacity":0},"encoding":{"y":{"field":"v","type":"quantitative","scale":{"domain":[-0.027,1.03],"range":[432.3,234.3],"nice":false,"zero":false},"axis":{"orient":"right","offset":-15,"ticks":false,"labels":false,"title":null}}}},
{
 "data":{"name":"pop"},"transform":[{"filter":"datum.p === 3"},{"fold":["X","Y","Z"],"as":["s","v"]}],
 "encoding":{
  "x":{"field":"t","type":"quantitative","scale":{"domain":[-0.85,30.85],"range":[1037.3,1360],"nice":false,"zero":false},
   "axis":{"orient":"bottom","offset":-42.7,"values":[0,2,4,6,8,10,12,14,16,18,20,22,24,26,28,30],"format":"d","tickSize":{"condition":{"test":"datum.value % 10 === 0","value":-6},"value":-3.5},"labelExpr":"datum.value % 10 === 0 ? datum.label : ''","labelPadding":9.5,"labelFontSize":16.5,"title":"Time (ns)","titleFontSize":16.5,"titlePadding":3}},
  "y":{"field":"v","type":"quantitative","scale":{"domain":[-0.027,1.03],"range":[657.3,459.3],"nice":false,"zero":false},
   "axis":{"orient":"left","offset":-1037.3,"values":[0,0.05,0.1,0.15,0.2,0.25,0.3,0.35,0.4,0.45,0.5,0.55,0.6,0.65,0.7,0.75,0.8,0.85,0.9,0.95,1],"format":".2f","tickSize":{"condition":{"test":"abs(datum.value*4 - round(datum.value*4)) < 0.001","value":-6},"value":-3.5},"labelExpr":"abs(datum.value*4 - round(datum.value*4)) < 0.001 ? datum.label : ''","labelPadding":9.5,"labelFontSize":16.5,"title":"Population","titleFontSize":16.5,"titlePadding":6}}},
 "layer":[
  {"mark":{"type":"line","strokeWidth":2.6},"encoding":{"color":{"field":"s","type":"nominal","scale":{"domain":["X","Y","Z"],"range":["#2e4a5e","#a52a2a","#9aa56b"]},"legend":null}}},
  {"mark":{"type":"point","filled":true,"size":100,"opacity":1},"encoding":{"color":{"field":"s","type":"nominal","scale":{"domain":["X","Y","Z"],"range":["#2e4a5e","#a52a2a","#9aa56b"]},"legend":null}}}
 ]
},
{"data":{"values":[{"t":0}]},"mark":{"type":"point","opacity":0},"encoding":{"x":{"field":"t","type":"quantitative","scale":{"domain":[-0.85,30.85],"range":[1037.3,1360],"nice":false,"zero":false},"axis":{"orient":"top","offset":-459.3,"ticks":false,"labels":false,"title":null}}}},
{"data":{"values":[{"v":0.5}]},"mark":{"type":"point","opacity":0},"encoding":{"y":{"field":"v","type":"quantitative","scale":{"domain":[-0.027,1.03],"range":[657.3,459.3],"nice":false,"zero":false},"axis":{"orient":"right","offset":-15,"ticks":false,"labels":false,"title":null}}}},
{
 "encoding":{
  "x":{"field":"t","type":"quantitative","scale":{"domain":[-0.8,31.0],"range":[1065.7,1169.3],"nice":false,"zero":false},
   "axis":{"orient":"bottom","offset":-505.7,"values":[0,5,10,15,20,25,30],"format":"d","tickSize":{"condition":{"test":"datum.value % 10 === 0","value":3},"value":1.5},"labelExpr":"datum.value % 10 === 0 ? datum.label : ''","labelPadding":1,"labelFontSize":8.5,"labelColor":"#222","domainWidth":0.8,"tickWidth":0.8,"title":null}},
  "y":{"field":"v","type":"quantitative","stack":null,"scale":{"domain":[-33.7,44.2],"range":[194.3,115.3],"nice":false,"zero":false},
   "axis":{"orient":"left","offset":-1065.7,"values":[-30,-20,-10,0,10,20,30,40],"format":"d","tickSize":{"condition":{"test":"datum.value % 20 === 0","value":3},"value":1.5},"labelExpr":"datum.value % 20 === 0 ? datum.label : ''","labelPadding":1,"labelFontSize":8.5,"labelColor":"#222","domainWidth":0.8,"tickWidth":0.8,"title":null}}},
 "layer":[
  {"data":{"name":"inframe"},"transform":[{"filter":"datum.p === 1"}],"mark":{"type":"rect","fill":"white","fillOpacity":0.8,"stroke":"#222","strokeWidth":0.8},"encoding":{"x2":{"field":"t2"},"y2":{"field":"v2"}}},
  {"data":{"name":"pulse"},"transform":[{"filter":"datum.p === 1"},{"fold":["I","Q"],"as":["s","v"]}],"mark":{"type":"bar","orient":"vertical","width":3.26,"opacity":0.82},"encoding":{"color":{"field":"s","type":"nominal","scale":{"domain":["I","Q"],"range":["#356a9c","#f19a45"]},"legend":null}}},
  {"data":{"name":"inzero"},"transform":[{"filter":"datum.p === 1"}],"mark":{"type":"rule","color":"#e8913a","strokeWidth":1.2},"encoding":{"x2":{"field":"t2"}}}
 ]
},
{
 "encoding":{
  "x":{"field":"t","type":"quantitative","scale":{"domain":[-0.7,31.0],"range":[1065,1168.3],"nice":false,"zero":false},
   "axis":{"orient":"bottom","offset":-382.3,"values":[0,5,10,15,20,25,30],"format":"d","tickSize":{"condition":{"test":"datum.value % 10 === 0","value":3},"value":1.5},"labelExpr":"datum.value % 10 === 0 ? datum.label : ''","labelPadding":1,"labelFontSize":8.5,"labelColor":"#222","domainWidth":0.8,"tickWidth":0.8,"title":null}},
  "y":{"field":"v","type":"quantitative","stack":null,"scale":{"domain":[-104.5,105],"range":[317.7,239],"nice":false,"zero":false},
   "axis":{"orient":"left","offset":-1065,"values":[-100,-75,-50,-25,0,25,50,75,100],"format":"d","tickSize":{"condition":{"test":"datum.value % 50 === 0","value":3},"value":1.5},"labelExpr":"datum.value % 50 === 0 ? datum.label : ''","labelPadding":1,"labelFontSize":8.5,"labelColor":"#222","domainWidth":0.8,"tickWidth":0.8,"title":null}}},
 "layer":[
  {"data":{"name":"inframe"},"transform":[{"filter":"datum.p === 2"}],"mark":{"type":"rect","fill":"white","fillOpacity":0.8,"stroke":"#222","strokeWidth":0.8},"encoding":{"x2":{"field":"t2"},"y2":{"field":"v2"}}},
  {"data":{"name":"pulse"},"transform":[{"filter":"datum.p === 2"},{"fold":["I","Q"],"as":["s","v"]}],"mark":{"type":"bar","orient":"vertical","width":3.26,"opacity":0.82},"encoding":{"color":{"field":"s","type":"nominal","scale":{"domain":["I","Q"],"range":["#356a9c","#f19a45"]},"legend":null}}},
  {"data":{"name":"inzero"},"transform":[{"filter":"datum.p === 2"}],"mark":{"type":"rule","color":"#e8913a","strokeWidth":1.2},"encoding":{"x2":{"field":"t2"}}}
 ]
},
{
 "encoding":{
  "x":{"field":"t","type":"quantitative","scale":{"domain":[-0.55,31.3],"range":[1148.3,1249.3],"nice":false,"zero":false},
   "axis":{"orient":"bottom","offset":-58.3,"values":[0,5,10,15,20,25,30],"format":"d","tickSize":{"condition":{"test":"datum.value % 10 === 0","value":3},"value":1.5},"labelExpr":"datum.value % 10 === 0 ? datum.label : ''","labelPadding":1,"labelFontSize":8.5,"labelColor":"#222","domainWidth":0.8,"tickWidth":0.8,"title":null}},
  "y":{"field":"v","type":"quantitative","stack":null,"scale":{"domain":[-110,109.5],"range":[641.7,563.3],"nice":false,"zero":false},
   "axis":{"orient":"left","offset":-1148.3,"values":[-100,-75,-50,-25,0,25,50,75,100],"format":"d","tickSize":{"condition":{"test":"datum.value % 50 === 0","value":3},"value":1.5},"labelExpr":"datum.value % 50 === 0 ? datum.label : ''","labelPadding":1,"labelFontSize":8.5,"labelColor":"#222","domainWidth":0.8,"tickWidth":0.8,"title":null}}},
 "layer":[
  {"data":{"name":"inframe"},"transform":[{"filter":"datum.p === 3"}],"mark":{"type":"rect","fill":"white","fillOpacity":0.8,"stroke":"#222","strokeWidth":0.8},"encoding":{"x2":{"field":"t2"},"y2":{"field":"v2"}}},
  {"data":{"name":"pulse"},"transform":[{"filter":"datum.p === 3"},{"fold":["I","Q"],"as":["s","v"]}],"mark":{"type":"bar","orient":"vertical","width":3.17,"opacity":0.82},"encoding":{"color":{"field":"s","type":"nominal","scale":{"domain":["I","Q"],"range":["#356a9c","#f19a45"]},"legend":null}}},
  {"data":{"name":"inzero"},"transform":[{"filter":"datum.p === 3"}],"mark":{"type":"rule","color":"#e8913a","strokeWidth":1.2},"encoding":{"x2":{"field":"t2"}}}
 ]
}
],
"resolve":{"scale":{"x":"independent","y":"independent","color":"independent","shape":"independent"},"axis":{"x":"independent","y":"independent"},"legend":{"color":"independent","shape":"independent"}}
}
